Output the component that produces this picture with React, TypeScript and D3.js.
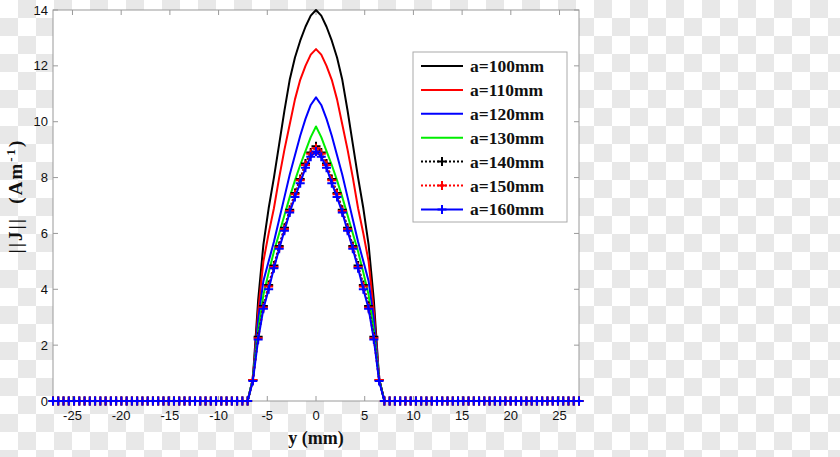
import React from "react";
import * as d3 from "d3";

// sampling grid of the field profile (mm), 101 samples, step 0.54 mm
const sampleY: number[] = d3.range(101).map((i) => +(-27 + i * 0.54).toFixed(2));

// non-zero central part (y from -6.48 to 6.48 mm), zeros elsewhere
const a100Core = [0.8, 3.6, 5.6, 6.9, 8.0, 9.2, 10.4, 11.5, 12.3, 12.9, 13.4, 13.8, 14.0, 13.8, 13.4, 12.9, 12.3, 11.5, 10.4, 9.2, 8.0, 6.9, 5.6, 3.6, 0.8];
const a110Core = [0.8, 3.2, 5.0, 6.0, 6.9, 8.0, 9.0, 9.9, 10.8, 11.5, 12.0, 12.4, 12.6, 12.4, 12.0, 11.5, 10.8, 9.9, 9.0, 8.0, 6.9, 6.0, 5.0, 3.2, 0.8];
const a120Core = [0.8, 2.9, 4.3, 5.0, 5.7, 6.5, 7.3, 8.1, 8.8, 9.5, 10.1, 10.6, 10.87, 10.6, 10.1, 9.5, 8.8, 8.1, 7.3, 6.5, 5.7, 5.0, 4.3, 2.9, 0.8];
const a130Core = [0.8, 2.5, 3.8, 4.6, 5.35, 6.0, 6.65, 7.3, 7.9, 8.45, 8.95, 9.45, 9.83, 9.45, 8.95, 8.45, 7.9, 7.3, 6.65, 6.0, 5.35, 4.6, 3.8, 2.5, 0.8];
const a140Core = [0.75, 2.3, 3.4, 4.15, 4.85, 5.55, 6.2, 6.85, 7.45, 7.95, 8.5, 8.9, 9.12, 8.9, 8.5, 7.95, 7.45, 6.85, 6.2, 5.55, 4.85, 4.15, 3.4, 2.3, 0.75];
const a150Core = [0.75, 2.25, 3.35, 4.1, 4.8, 5.5, 6.15, 6.8, 7.4, 7.9, 8.45, 8.85, 9.05, 8.85, 8.45, 7.9, 7.4, 6.8, 6.15, 5.5, 4.8, 4.1, 3.35, 2.25, 0.75];
const a160Core = [0.72, 2.2, 3.3, 4.0, 4.75, 5.45, 6.1, 6.75, 7.3, 7.8, 8.35, 8.75, 8.93, 8.75, 8.35, 7.8, 7.3, 6.75, 6.1, 5.45, 4.75, 4.0, 3.3, 2.2, 0.72];

const zeroSide: number[] = new Array(38).fill(0);
const full = (core: number[]) => [...zeroSide, ...core, ...zeroSide];

const seriesNames = ["a=100mm", "a=110mm", "a=120mm", "a=130mm", "a=140mm", "a=150mm", "a=160mm"];
const seriesValues = [a100Core, a110Core, a120Core, a130Core, a140Core, a150Core, a160Core].map(full);
const seriesColors = ["#000000", "#ff0000", "#0000ff", "#00ee00", "#000000", "#ff0000", "#0000ff"];
const seriesDashed = [false, false, false, false, true, true, false];
const seriesMarker = ["none", "none", "none", "none", "plus", "plusd", "plus"];

const xTicks = [-25, -20, -15, -10, -5, 0, 5, 10, 15, 20, 25];
const yTicks = [0, 2, 4, 6, 8, 10, 12, 14];

const W = 840;
const H = 457;
const L = 53, R = 579, T = 10, B = 401;

export default function App() {
  const x = d3.scaleLinear().domain([-27, 27]).range([L, R]);
  const y = d3.scaleLinear().domain([0, 14]).range([B, T]);
  const line = d3.line<number>().x((_, i) => x(sampleY[i])).y((d) => y(d));

  const cell = 18;
  const cells: JSX.Element[] = [];
  for (let r = 0; r * cell < H; r++) {
    for (let c = 0; c * cell < W; c++) {
      if ((r + c) % 2 === 1) cells.push(<rect key={`${r}-${c}`} x={c * cell} y={r * cell} width={cell} height={cell} fill="#e8e8e8" />);
    }
  }

  const marker = (kind: string, cx: number, cy: number, color: string, key: string) => {
    const s = 4.5;
    return (
      <g key={key}>
        {kind === "plusd" && <path d={`M${cx - 2.5},${cy}L${cx},${cy - 2.5}L${cx + 2.5},${cy}L${cx},${cy + 2.5}Z`} fill={color} />}
        <path d={`M${cx - s},${cy}H${cx + s}M${cx},${cy - s}V${cy + s}`} stroke={color} strokeWidth={2} fill="none" />
      </g>
    );
  };

  const axisColor = "#9a9a9a";
  const legX = 413, legY = 52, legW = 154, legH = 170;
  const rowY0 = 66, rowStep = 23.9;

  return (
    <svg width={W} height={H} style={{ position: "absolute", left: 0, top: 0, background: "#fff" }}>
      <g>{cells}</g>
      <rect x={L} y={T} width={R - L} height={B - T} fill="#fff" />

      {/* axes frame */}
      <rect x={L} y={T} width={R - L} height={B - T} fill="none" stroke={axisColor} strokeWidth={1} />
      {xTicks.map((t) => (
        <g key={`xt${t}`}>
          <line x1={x(t)} x2={x(t)} y1={B} y2={B - 5} stroke={axisColor} />
          <line x1={x(t)} x2={x(t)} y1={T} y2={T + 5} stroke={axisColor} />
          <text x={x(t)} y={420} textAnchor="middle" fontFamily="Liberation Sans, Arial, sans-serif" fontSize={13} fill="#111">{t}</text>
        </g>
      ))}
      {yTicks.map((t) => (
        <g key={`yt${t}`}>
          <line x1={L} x2={L + 5} y1={y(t)} y2={y(t)} stroke={axisColor} />
          <line x1={R} x2={R - 5} y1={y(t)} y2={y(t)} stroke={axisColor} />
          <text x={48} y={y(t) + 4.5} textAnchor="end" fontFamily="Liberation Sans, Arial, sans-serif" fontSize={13} fill="#111">{t}</text>
        </g>
      ))}

      {/* series */}
      {seriesValues.map((vals, si) => (
        <g key={`s${si}`}>
          <path d={line(vals) || ""} fill="none" stroke={seriesColors[si]} strokeWidth={2}
            strokeDasharray={seriesDashed[si] ? "2,2" : undefined} strokeLinejoin="round" />
          {seriesMarker[si] !== "none" && vals.map((v, i) => marker(seriesMarker[si], x(sampleY[i]), y(v), seriesColors[si], `m${si}-${i}`))}
        </g>
      ))}

      {/* legend */}
      <rect x={legX} y={legY} width={legW} height={legH} fill="#fff" stroke="#aaaaaa" strokeWidth={1} />
      {seriesNames.map((n, i) => {
        const ry = rowY0 + i * rowStep;
        return (
          <g key={`lg${i}`}>
            <line x1={421} x2={463} y1={ry} y2={ry} stroke={seriesColors[i]} strokeWidth={2}
              strokeDasharray={seriesDashed[i] ? "2,2" : undefined} />
            {seriesMarker[i] !== "none" && marker(seriesMarker[i], 442, ry, seriesColors[i], `lm${i}`)}
            <text x={470} y={ry + 6} fontFamily="Liberation Serif, Times New Roman, serif" fontWeight="bold" fontSize={17.5} fill="#111">{n}</text>
          </g>
        );
      })}

      {/* axis labels */}
      <text x={316} y={444} textAnchor="middle" fontFamily="Liberation Serif, Times New Roman, serif" fontWeight="bold" fontSize={18} fill="#111">y (mm)</text>
      <text transform="translate(22,196) rotate(-90)" textAnchor="middle" fontFamily="Liberation Serif, Times New Roman, serif" fontWeight="bold" fontSize={19} letterSpacing={2} fill="#111" xmlSpace="preserve">
        {"||J||  (Am"}<tspan dy={-7} fontSize={13}>-1</tspan><tspan dy={7}>)</tspan>
      </text>
    </svg>
  );
}
